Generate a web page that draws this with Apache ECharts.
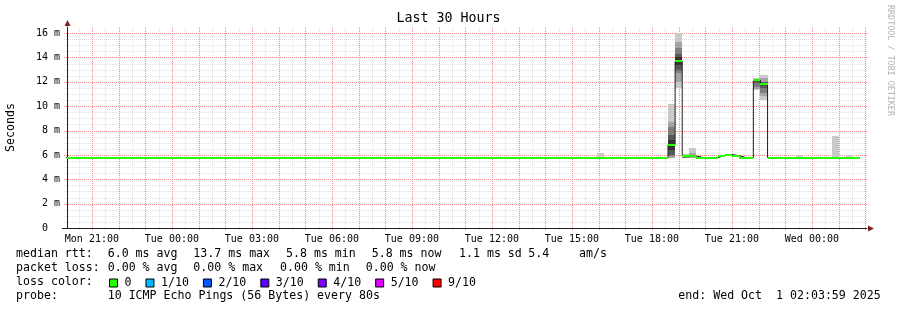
<!DOCTYPE html>
<html><head><meta charset="utf-8">
<script src="https://cdn.jsdelivr.net/npm/echarts@6/dist/echarts.min.js"></script>
<style>html,body{margin:0;padding:0;background:#fff}#c{width:897px;height:310px}</style>
</head><body><div id="c"></div>
<script>
// ---------- DATA (time = hours since Mon 00:00) ----------
const X_MIN = 20.0664;            // Mon 20:03:59
const X_MAX = 50.0664;            // Wed 02:03:59
const Y_MAX = 16.5;
const BIN_START = 19.9372;        // first 16-minute bin start
const BIN_HOURS = 16 / 60;

const X_TICKS  = [21, 24, 27, 30, 33, 36, 39, 42, 45, 48];
const X_LABELS = ['Mon 21:00','Tue 00:00','Tue 03:00','Tue 06:00','Tue 09:00','Tue 12:00','Tue 15:00','Tue 18:00','Tue 21:00','Wed 00:00'];
const Y_TICKS  = [0, 2, 4, 6, 8, 10, 12, 14, 16];
const Y_LABELS = ['0  ','2 m','4 m','6 m','8 m','10 m','12 m','14 m','16 m'];

// median rtt per 16-min bin (ms)
const MEDIAN = [
  5.78,5.78,5.78,5.78,5.78,5.78,5.78,5.78,5.78,5.78,
  5.78,5.78,5.78,5.78,5.78,5.78,5.78,5.78,5.78,5.78,
  5.78,5.78,5.78,5.78,5.78,5.78,5.78,5.78,5.78,5.78,
  5.78,5.78,5.78,5.78,5.78,5.78,5.78,5.78,5.78,5.78,
  5.78,5.78,5.78,5.78,5.78,5.78,5.78,5.78,5.78,5.78,
  5.78,5.78,5.78,5.78,5.78,5.78,5.78,5.78,5.78,5.78,
  5.78,5.78,5.78,5.78,5.78,5.78,5.78,5.78,5.78,5.78,
  5.78,5.78,5.78,5.78,5.78,5.78,5.78,5.78,5.78,5.78,
  5.78,5.78,5.78,5.78,5.78,6.85,13.7,5.88,5.90,5.78,
  5.78,5.78,5.93,6.03,5.93,5.78,5.78,12.12,11.85,5.78,
  5.78,5.78,5.78,5.78,5.78,5.78,5.78,5.78,5.78,5.78,
  5.78,5.78,null
];
// lost pings (of 10) per bin
const LOSS = [
  0,0,0,0,0,0,0,0,0,0, 0,0,0,0,0,0,0,0,0,0, 0,0,0,0,0,0,0,0,0,0,
  0,0,0,0,0,0,0,0,0,0, 0,0,0,0,0,0,0,0,0,0, 0,0,0,0,0,0,0,0,0,0,
  0,0,0,0,0,0,0,0,0,0, 0,0,0,0,0,0,0,0,0,0, 0,0,0,0,0,0,0,0,0,0,
  0,0,0,0,0,0,0,0,0,0, 0,0,0,0,0,0,0,0,0,0, 0,0,null
];
// bins with visible smoke, and their 10 sorted ping times (ms)
const SMOKE_BINS = [75, 85, 86, 87, 88, 97, 98, 103, 108, 110];
const SMOKE_PINGS = [
  [5.74,5.76,5.77,5.78,5.78,5.78,5.79,5.80,5.84,6.17],
  [5.72,5.76,5.88,6.02,6.44,7.22,7.63,8.31,8.72,10.17],
  [11.46,11.95,12.70,12.95,13.40,14.00,14.30,14.77,15.30,16.00],
  [5.74,5.76,5.78,5.80,5.86,5.90,5.92,5.95,5.98,6.05],
  [5.74,5.78,5.82,5.86,5.88,5.92,5.95,6.00,6.13,6.55],
  [11.32,11.40,11.60,11.87,12.09,12.15,12.16,12.18,12.22,12.28],
  [10.50,10.80,11.05,11.46,11.80,11.90,11.98,12.00,12.28,12.55],
  [5.74,5.76,5.77,5.78,5.78,5.78,5.79,5.80,5.84,6.00],
  [5.74,5.76,5.77,5.78,5.78,5.78,5.79,5.80,5.84,7.55],
  [5.74,5.76,5.77,5.78,5.78,5.78,5.79,5.80,5.84,6.00]
];
const LOSS_CLASSES = ['0','1/10','2/10','3/10','4/10','5/10','9/10'];
const LOSS_LEVELS  = [0, 1, 2, 3, 4, 5, 9];
const LOSS_COLORS  = ['#26ff00','#00b8ff','#0059ff','#5e00ff','#7e00ff','#dd00ff','#ff0000'];

const TITLE = 'Last 30 Hours';
const Y_NAME = 'Seconds';
const RTT_TEXT  = ['median rtt:','6.0 ms avg','13.7 ms max','5.8 ms min','5.8 ms now','1.1 ms sd','5.4','am/s'];
const LOSS_TEXT = ['packet loss:','0.00 % avg','0.00 % max','0.00 % min','0.00 % now'];
const LOSS_COLOR_LABEL = 'loss color:';
const PROBE_TEXT = ['probe:','10 ICMP Echo Pings (56 Bytes) every 80s'];
const END_TEXT = 'end: Wed Oct  1 02:03:59 2025';
const WATERMARK = 'RRDTOOL / TOBI OETIKER';

// ---------- STYLE / LAYOUT ----------
const FONT = '"DejaVu Sans Mono", monospace';
const SMOKE_SHADES = ['#cacaca','#a4a4a4','#7e7e7e','#585858','#323232'];
const SW = 0.0825;  // half-height of the median band (ms)
const RED_GRID = '#ee8c8c', GRAY_GRID = '#e0e0e0';
const AXIS_COLOR = '#1f1f1f', ARROW_COLOR = '#801f1f';
const RTT_X  = [16, 107.7, 193.3, 286, 371.7, 459, 528.3, 579];
const LOSS_X = [16, 107.7, 193.3, 280, 365.7];
const PROBE_X = [16, 107.7];
const LINE_Y = [254, 268, 282, 296];

const binStart = i => BIN_START + i * BIN_HOURS;
function lossClass(l) { for (let k = 0; k < LOSS_LEVELS.length; k++) if (l <= LOSS_LEVELS[k]) return k; return LOSS_LEVELS.length - 1; }

const chart = echarts.init(document.getElementById('c'), null, {renderer: 'canvas', width: 897, height: 310});

function clipTo(params, r) {
  const cs = params.coordSys;
  return echarts.graphic.clipRectByRect(r, {x: cs.x, y: cs.y, width: cs.width, height: cs.height});
}
function renderSmoke(params, api) {
  const x0 = api.value(0), x1 = api.value(1);
  const children = [];
  for (let j = 0; j < 5; j++) {
    const lo = api.value(2 + j), hi = api.value(11 - j);
    const a = api.coord([x0, hi]), b = api.coord([x1, lo]);
    const X0 = Math.round(a[0]), X1 = Math.round(b[0]);
    const Y0 = Math.round(a[1]), Y1 = Math.round(b[1]);
    const r = clipTo(params, {x: X0, y: Y0, width: X1 - X0, height: Math.max(Y1 - Y0, 0)});
    if (r && r.height > 0) children.push({type: 'rect', shape: r, style: {fill: SMOKE_SHADES[j]}});
  }
  return {type: 'group', children};
}
function renderBand(params, api) {
  const x0 = api.value(0), x1 = api.value(1), m = api.value(2);
  const a = api.coord([x0, m + SW]), b = api.coord([x1, m - SW]);
  const X0 = Math.round(a[0]), X1 = Math.round(b[0]);
  const Y0 = Math.round(a[1]), Y1 = Math.round(b[1]);
  const r = clipTo(params, {x: X0, y: Y0, width: X1 - X0, height: Math.max(Y1 - Y0, 1)});
  return r ? {type: 'rect', shape: r, style: {fill: api.visual('color')}} : null;
}

// grid lines (axis ticks, not data): half-hours / half-ms; majors on the hour / every 2 ms
const V_GRID = [], H_GRID = [];
for (let k = Math.ceil(X_MIN * 2); k / 2 < X_MAX; k++) V_GRID.push([k / 2, k % 2 === 0 ? 1 : 0]);
for (let k = 1; k <= 32; k++) H_GRID.push([k / 2, k % 4 === 0 ? 1 : 0]);

function renderGridAll(params, api) {
  const cs = params.coordSys;
  const minor = [], major = [];
  H_GRID.forEach(([v, m]) => {
    const y = Math.round(api.coord([X_MIN, v])[1]) + 0.5;
    (m ? major : minor).push({type: 'line', shape: {x1: cs.x - 3, y1: y, x2: cs.x + cs.width, y2: y}});
  });
  V_GRID.forEach(([v, m]) => {
    const x = Math.round(api.coord([v, 0])[0]) + 0.5;
    (m ? major : minor).push({type: 'line', shape: {x1: x, y1: cs.y, x2: x, y2: cs.y + cs.height + 2}});
  });
  minor.forEach(e => e.style = {stroke: GRAY_GRID, lineWidth: 1, lineDash: [1, 1]});
  major.forEach(e => e.style = {stroke: RED_GRID, lineWidth: 1, lineDash: [1, 1]});
  return {type: 'group', children: minor.concat(major)};
}

const smokeData = SMOKE_BINS.map((b, k) => [binStart(b), binStart(b + 1)].concat(SMOKE_PINGS[k]));
const lineData = [];
let lastIdx = -1;
MEDIAN.forEach((v, i) => { if (v != null) { lineData.push([binStart(i), v]); lastIdx = i; } });
lineData.push([binStart(lastIdx + 1), MEDIAN[lastIdx]]);

const bandSeries = LOSS_CLASSES.map((name, k) => ({
  type: 'custom', name, z: 5, animation: false, silent: true,
  itemStyle: {color: LOSS_COLORS[k]},
  renderItem: renderBand,
  encode: {x: [0, 1], y: 2},
  data: MEDIAN.map((v, i) => (v != null && lossClass(LOSS[i]) === k) ? [binStart(i), binStart(i + 1), v] : null).filter(Boolean)
}));

function txt(text, x, y, extra) {
  return Object.assign({type: 'text', x, y, silent: true,
    style: {text, font: '11.6px ' + FONT, fill: '#000', textVerticalAlign: 'middle', verticalAlign: 'middle'}}, extra || {});
}

const option = {
  animation: false,
  backgroundColor: '#fff',
  title: {text: TITLE, left: 'center', top: 12, padding: 0,
    textStyle: {fontFamily: FONT, fontSize: 13.3, fontWeight: 'normal', color: '#000'}},
  grid: {left: 67, right: 30, top: 27, bottom: 82, containLabel: false, outerBoundsMode: 'none'},
  legend: {data: LOSS_CLASSES, left: 109, top: 277, padding: 0, itemWidth: 8, itemHeight: 8, itemGap: 14,
    icon: 'rect', selectedMode: false,
    itemStyle: {borderColor: '#000', borderWidth: 1},
    textStyle: {fontFamily: FONT, fontSize: 11.6, color: '#000', padding: [0, 0, 0, 2]}},
  xAxis: {type: 'value', min: X_MIN, max: X_MAX,
    axisLine: {show: true, lineStyle: {color: AXIS_COLOR, width: 1}},
    axisTick: {show: false},
    splitLine: {show: false},
    axisLabel: {customValues: X_TICKS, margin: 6, color: '#000', fontFamily: FONT, fontSize: 10,
      formatter: v => { const i = X_TICKS.indexOf(v); return i < 0 ? '' : X_LABELS[i]; }}},
  yAxis: {type: 'value', min: 0, max: Y_MAX, interval: 2,
    name: Y_NAME, nameLocation: 'middle', nameGap: 50, nameRotate: 90,
    nameTextStyle: {fontFamily: FONT, fontSize: 11.6, color: '#000'},
    axisLine: {show: true, lineStyle: {color: AXIS_COLOR, width: 1}},
    axisTick: {show: false},
    splitLine: {show: false},
    axisLabel: {margin: 7, color: '#000', fontFamily: FONT, fontSize: 10, showMaxLabel: false,
      formatter: v => { const i = Y_TICKS.indexOf(v); return i < 0 ? '' : Y_LABELS[i]; }}},
  series: [
    {type: 'custom', name: 'grid', z: 1, silent: true, renderItem: renderGridAll,
      data: [[X_MIN, 0]], encode: {x: 0, y: 1}},
    {type: 'custom', name: 'smoke', z: 2, silent: true, renderItem: renderSmoke,
      encode: {x: [0, 1], y: [2, 3, 4, 5, 6, 7, 8, 9, 10, 11]}, data: smokeData},
    {type: 'line', name: 'median', z: 3, silent: true, step: 'end', symbol: 'none',
      lineStyle: {color: '#202020', width: 1}, data: lineData}
  ].concat(bandSeries)
};
chart.setOption(option);

// decorations: arrows, watermark, text legend
const pEnd = chart.convertToPixel({gridIndex: 0}, [X_MAX, 0]);
const pTop = chart.convertToPixel({gridIndex: 0}, [X_MIN, Y_MAX]);
const ax = Math.round(pEnd[0]) + 1, ay = Math.round(pEnd[1]) + 0.5;
const tx = Math.round(pTop[0]) + 0.5, ty = Math.round(pTop[1]) - 1;
const graphics = [
  {type: 'line', silent: true, shape: {x1: Math.round(pEnd[0]) - 805, y1: ay, x2: Math.round(pTop[0]), y2: ay}, style: {stroke: AXIS_COLOR, lineWidth: 1}},
  {type: 'polygon', silent: true, shape: {points: [[ax + 6, ay], [ax, ay - 3], [ax, ay + 3]]}, style: {fill: ARROW_COLOR}},
  {type: 'polygon', silent: true, shape: {points: [[tx, ty - 6], [tx - 3, ty], [tx + 3, ty]]}, style: {fill: ARROW_COLOR}},
  {type: 'text', x: 890, y: 5, rotation: -Math.PI / 2, silent: true,
    style: {text: WATERMARK, font: '8.4px ' + FONT, fill: '#b4b4b4', textAlign: 'left', align: 'left', textVerticalAlign: 'middle', verticalAlign: 'middle'}}
];
RTT_TEXT.forEach((t, i) => graphics.push(txt(t, RTT_X[i], LINE_Y[0])));
LOSS_TEXT.forEach((t, i) => graphics.push(txt(t, LOSS_X[i], LINE_Y[1])));
graphics.push(txt(LOSS_COLOR_LABEL, 16, LINE_Y[2]));
PROBE_TEXT.forEach((t, i) => graphics.push(txt(t, PROBE_X[i], LINE_Y[3])));
graphics.push(txt(END_TEXT, 678.3, LINE_Y[3]));
chart.setOption({graphic: graphics});
</script>
</body></html>
